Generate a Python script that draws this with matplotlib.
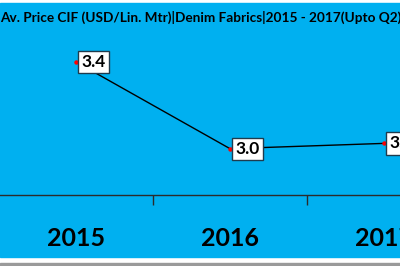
import matplotlib

matplotlib.use("Agg")
import matplotlib.pyplot as plt
from matplotlib.patches import Rectangle

# data
years = ["2015", "2016", "2017"]
prices = [3.42, 3.01, 3.035]
price_labels = ["3.4", "3.0", "3.0"]
title = "Av. Price CIF (USD/Lin. Mtr)|Denim Fabrics|2015 - 2017(Upto Q2)"

BLUE = "#00B0F0"
FONT = "Lato"
W, H = 400, 266

fig = plt.figure(figsize=(W / 100, H / 100), dpi=100, facecolor="white")

# blue chart area and the grey rule under it
fig.add_artist(Rectangle((0, 1 - 257 / H), 1, (257 - 3) / H,
                         transform=fig.transFigure, color=BLUE, zorder=0))
fig.add_artist(Rectangle((0, 0), 1, 3 / H, transform=fig.transFigure,
                         color="#9a9a9a", zorder=0))

fig.text(0.0, 1 - 17 / H, title, ha="left", va="center", fontsize=9.8,
         fontweight="bold", family=FONT, color="black")

ax = fig.add_axes([-1 / W, 1 - 195 / H, 462 / W, 165 / H])
ax.set_facecolor("none")
x = list(range(len(years)))
ax.plot(x, prices, color="black", lw=1.0, zorder=2)
ax.plot(x, prices, "o", color="red", ms=2.2, zorder=3)
for xi, v, lab in zip(x, prices, price_labels):
    ax.annotate(lab, (xi, v), xytext=(4, 0), textcoords="offset points",
                ha="left", va="center", fontsize=12.5, fontweight="bold",
                family=FONT, zorder=4,
                bbox=dict(boxstyle="square,pad=0.18", fc="white",
                          ec="#1f3b4d", lw=1.0))

ax.set_xlim(-0.5, 2.5)
ax.set_ylim(2.791, 3.571)
for side in ["top", "right", "left"]:
    ax.spines[side].set_visible(False)
ax.spines["bottom"].set_color("#2b2b2b")
ax.spines["bottom"].set_linewidth(1.0)
ax.set_yticks([])
ax.set_xticks([0.5, 1.5], minor=False)
ax.set_xticklabels([])
ax.tick_params(axis="x", length=7, width=1.0, color="#2b2b2b", direction="out")
for xi, yr in zip(x, years):
    ax.text(xi, -43 / 165, yr, transform=ax.get_xaxis_transform(),
            ha="center", va="center", fontsize=18, fontweight="bold",
            family=FONT, color="black")

fig.savefig("out.png", dpi=100, facecolor="white")
